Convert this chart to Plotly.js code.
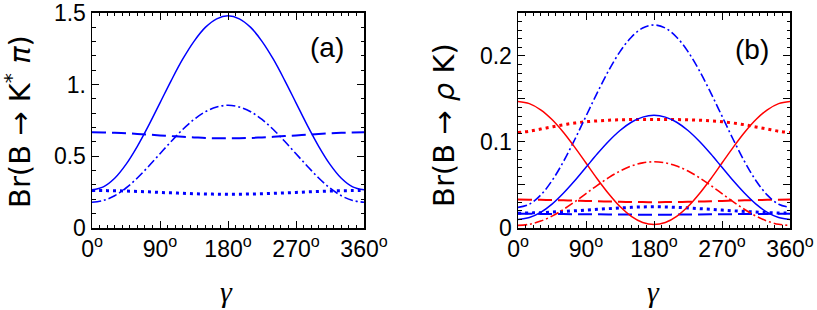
<!DOCTYPE html>
<html>
<head>
<meta charset="utf-8">
<script src="https://cdn.plot.ly/plotly-3.0.1.min.js"></script>
<style>
html,body{margin:0;padding:0;background:#fff;}
#chart{width:817px;height:310px;}
</style>
</head>
<body>
<div id="chart"></div>
<script>
// gamma (degrees)
const gamma = [0,15,30,45,60,75,90,105,120,135,150,165,180,195,210,225,240,255,270,285,300,315,330,345,360];

// Panel (a): Br(B -> K* pi)
const aSolid   = [0.266,0.287,0.347,0.444,0.570,0.716,0.873,1.030,1.177,1.302,1.399,1.459,1.480,1.459,1.399,1.302,1.177,1.030,0.873,0.716,0.570,0.444,0.347,0.287,0.266];
const aDashDot = [0.180,0.192,0.225,0.279,0.349,0.431,0.518,0.605,0.687,0.757,0.811,0.844,0.856,0.844,0.811,0.757,0.687,0.605,0.518,0.431,0.349,0.279,0.225,0.192,0.180];
const aDashed  = [0.667,0.666,0.664,0.661,0.656,0.651,0.646,0.641,0.636,0.632,0.628,0.626,0.626,0.626,0.628,0.632,0.636,0.641,0.646,0.651,0.656,0.661,0.664,0.666,0.667];
const aDotted  = [0.262,0.261,0.260,0.258,0.255,0.252,0.248,0.245,0.242,0.239,0.237,0.236,0.235,0.236,0.237,0.239,0.242,0.245,0.248,0.252,0.255,0.258,0.260,0.261,0.262];

// Panel (b): Br(B -> rho K)
const bBlueSolid   = [0.010,0.0121,0.0181,0.0277,0.0403,0.0548,0.0705,0.0862,0.1008,0.1133,0.1229,0.1289,0.131,0.1289,0.1229,0.1133,0.1008,0.0862,0.0705,0.0548,0.0403,0.0277,0.0181,0.0121,0.010];
const bBlueDashDot = [0.024,0.0276,0.0382,0.0550,0.077,0.1026,0.130,0.1574,0.183,0.205,0.2218,0.2324,0.236,0.2324,0.2218,0.205,0.183,0.1574,0.130,0.1026,0.077,0.0550,0.0382,0.0276,0.024];
const bBlueDotted  = [0.0172,0.0175,0.0178,0.0185,0.0192,0.0200,0.0208,0.0217,0.0225,0.0233,0.0240,0.0245,0.0247,0.0245,0.0240,0.0233,0.0225,0.0217,0.0208,0.0200,0.0192,0.0185,0.0178,0.0175,0.0172];
const bBlueDashed  = [0.0165,0.0165,0.0164,0.0163,0.0162,0.0161,0.0160,0.0159,0.0158,0.0157,0.0156,0.0155,0.0155,0.0155,0.0156,0.0157,0.0158,0.0159,0.0160,0.0161,0.0162,0.0163,0.0164,0.0165,0.0165];
const bRedSolid    = [0.147,0.1446,0.1374,0.1261,0.1113,0.094,0.0755,0.057,0.0398,0.0249,0.0136,0.0064,0.004,0.0064,0.0136,0.0249,0.0398,0.057,0.0755,0.094,0.1113,0.1261,0.1374,0.1446,0.147];
const bRedDotted   = [0.111,0.1125,0.115,0.1175,0.120,0.122,0.1235,0.1245,0.1253,0.1258,0.126,0.126,0.126,0.126,0.126,0.1258,0.1253,0.1245,0.1235,0.122,0.120,0.1175,0.115,0.1125,0.111];
const bRedDashDot  = [0.003,0.0043,0.0080,0.0138,0.0215,0.0304,0.040,0.0496,0.0585,0.0662,0.072,0.0757,0.077,0.0757,0.072,0.0662,0.0585,0.0496,0.040,0.0304,0.0215,0.0138,0.0080,0.0043,0.003];
const bRedDashed   = [0.033,0.0329,0.0327,0.0325,0.0322,0.0319,0.0315,0.0311,0.0308,0.0305,0.0302,0.0301,0.030,0.0301,0.0302,0.0305,0.0308,0.0311,0.0315,0.0319,0.0322,0.0325,0.0327,0.0329,0.033];

// tick label text
const xTickSuffix = '<sup>o</sup>';
const yaLabelAlias = {'1': '1.'};
const ybLabelAlias = {'0.05': ' ', '0.15': ' ', '0.25': ' '};

const BLUE = '#0000ff', RED = '#ff0000';
const styles = {
  solid:   {width:1.5, dash:'solid'},
  dashed:  {width:2,   dash:'14px,6px'},
  dotted:  {width:3,   dash:'3px,4px'},
  dashdot: {width:1.6, dash:'9px,3px,2px,3px'}
};
function tr(y, color, st, xa, ya){
  return {x:gamma, y:y, type:'scatter', mode:'lines', xaxis:xa, yaxis:ya,
    line:{color:color, width:styles[st].width, dash:styles[st].dash, shape:'spline', smoothing:1},
    hoverinfo:'skip', showlegend:false};
}
const data = [
  tr(aDashed, BLUE,'dashed','x','y'),
  tr(aDotted, BLUE,'dotted','x','y'),
  tr(aDashDot,BLUE,'dashdot','x','y'),
  tr(aSolid,  BLUE,'solid','x','y'),
  tr(bRedDashed,  RED,'dashed','x2','y2'),
  tr(bBlueDashed, BLUE,'dashed','x2','y2'),
  tr(bBlueDotted, BLUE,'dotted','x2','y2'),
  tr(bRedDotted,  RED,'dotted','x2','y2'),
  tr(bRedDashDot, RED,'dashdot','x2','y2'),
  tr(bBlueDashDot,BLUE,'dashdot','x2','y2'),
  tr(bRedSolid,   RED,'solid','x2','y2'),
  tr(bBlueSolid,  BLUE,'solid','x2','y2')
];

const tickFont = {family:'Liberation Sans, Arial, sans-serif', size:23, color:'#000'};
function xax(domain, anchor){
  return {domain:domain, anchor:anchor, range:[0,360], tickmode:'linear', tick0:0, dtick:90, ticksuffix:xTickSuffix,
    ticks:'inside', ticklen:7, tickwidth:1, tickcolor:'#000', showline:true, linecolor:'#000', linewidth:1.5,
    mirror:'allticks', showgrid:false, zeroline:false, tickfont:tickFont, ticklabelstandoff:0, ticklabeloverflow:'allow',
    minor:{tickmode:'linear', tick0:0, dtick:10, ticks:'inside', ticklen:3.5, tickwidth:1, tickcolor:'#000', showgrid:false}};
}
function yax(domain, anchor, range, dtick, alias, minorDtick){
  return {domain:domain, anchor:anchor, range:range, tickmode:'linear', tick0:0, dtick:dtick, labelalias:alias,
    ticks:'inside', ticklen:7, tickwidth:1, tickcolor:'#000', showline:true, linecolor:'#000', linewidth:1.5,
    mirror:'allticks', showgrid:false, zeroline:false, tickfont:tickFont, ticklabelstandoff:0, ticklabeloverflow:'allow',
    minor:{tickmode:'linear', tick0:0, dtick:minorDtick, ticks:'inside', ticklen:3.5, tickwidth:1, tickcolor:'#000', showgrid:false}};
}
const W = 817, H = 310;
const yDom = [1-228/H, 1-12.5/H];
const layout = {
  width:W, height:H, margin:{l:0,r:0,t:0,b:0}, paper_bgcolor:'#fff', plot_bgcolor:'#fff', showlegend:false,
  xaxis: xax([92/W, 364/W], 'y'),
  yaxis: yax(yDom, 'x', [0,1.503], 0.5, yaLabelAlias, 0.1),
  xaxis2: xax([518/W, 790/W], 'y2'),
  yaxis2: yax(yDom, 'x2', [0,0.2505], 0.05, ybLabelAlias, 0.01),
  annotations:[
    {xref:'paper', yref:'paper', x:327/W, y:1-47/H, text:'(a)', showarrow:false, xanchor:'center', yanchor:'middle',
     font:{family:'Liberation Sans, Arial, sans-serif', size:28, color:'#000'}},
    {xref:'paper', yref:'paper', x:752/W, y:1-49/H, text:'(b)', showarrow:false, xanchor:'center', yanchor:'middle',
     font:{family:'Liberation Sans, Arial, sans-serif', size:28, color:'#000'}},
    {xref:'paper', yref:'paper', x:18/W, y:1-122/H, text:'Br(B \u2192 K<sup>*</sup> <i>\u03c0</i>)', textangle:-90, showarrow:false,
     xanchor:'center', yanchor:'middle', font:{family:'DejaVu Sans, sans-serif', size:29, color:'#000'}},
    {xref:'paper', yref:'paper', x:444/W, y:1-125/H, text:'Br(B \u2192 <i>\u03c1</i> K)', textangle:-90, showarrow:false,
     xanchor:'center', yanchor:'middle', font:{family:'DejaVu Sans, sans-serif', size:29, color:'#000'}},
    {xref:'paper', yref:'paper', x:226/W, y:1-291/H, text:'<i>\u03b3</i>', showarrow:false,
     xanchor:'center', yanchor:'middle', font:{family:'Liberation Serif, Times New Roman, serif', size:30, color:'#000'}},
    {xref:'paper', yref:'paper', x:653/W, y:1-291/H, text:'<i>\u03b3</i>', showarrow:false,
     xanchor:'center', yanchor:'middle', font:{family:'Liberation Serif, Times New Roman, serif', size:30, color:'#000'}}
  ]
};
Plotly.newPlot('chart', data, layout, {staticPlot:true, displayModeBar:false});
</script>
</body>
</html>
